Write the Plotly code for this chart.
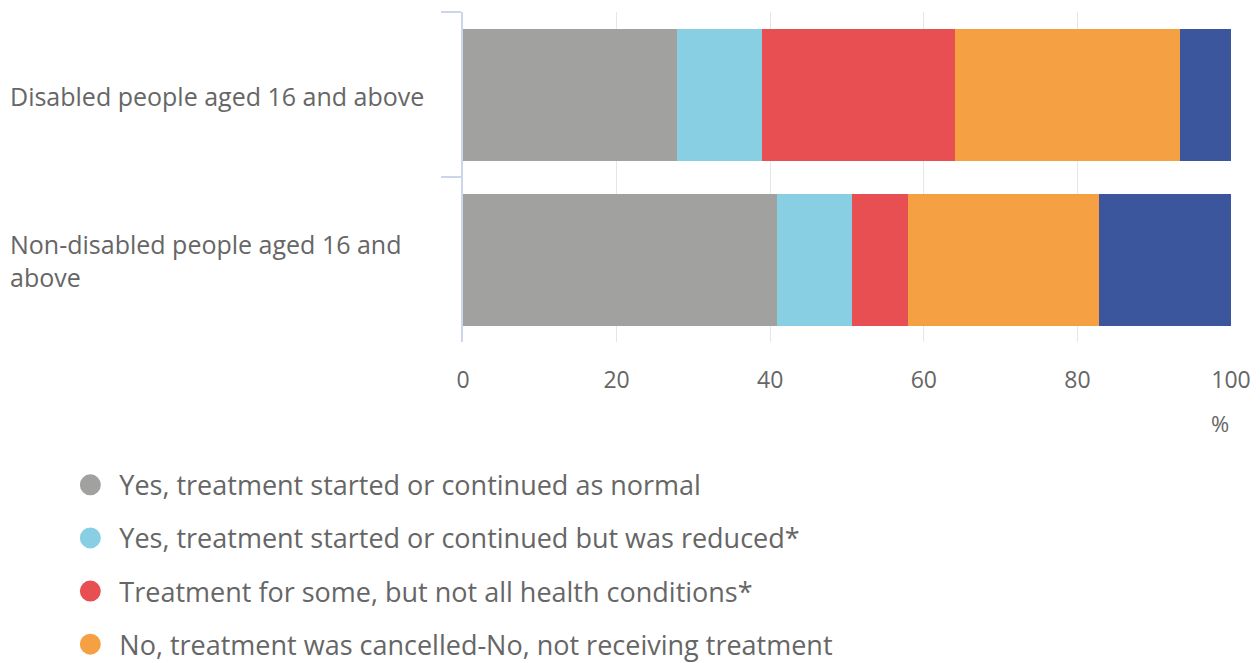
import plotly.graph_objects as go

categories = ["Disabled people aged 16 and above", "Non-disabled people aged 16 and above"]
category_labels = ["Disabled people aged 16 and above", "Non-disabled people aged 16 and<br>above"]

series_names = [
    "Yes, treatment started or continued as normal",
    "Yes, treatment started or continued but was reduced*",
    "Treatment for some, but not all health conditions*",
    "No, treatment was cancelled-No, not receiving treatment",
    "Don't know or prefer not to say",
]
normal = [27.9, 40.9]
reduced = [11.0, 9.7]
some_conditions = [25.2, 7.3]
cancelled = [29.3, 24.9]
dont_know = [6.6, 17.2]
series_values = [normal, reduced, some_conditions, cancelled, dont_know]
colors = ["#a1a1a0", "#89cfe4", "#e84f52", "#f6a044", "#3b569d"]
x_ticks = [0, 20, 40, 60, 80, 100]

FONT = "Open Sans"
TXT = "#666666"

fig = go.Figure()
for name, vals, col in zip(series_names, series_values, colors):
    fig.add_trace(go.Bar(
        y=categories, x=vals, orientation="h", name=name,
        marker=dict(color=col, line=dict(width=0)),
        showlegend=False, hoverinfo="x+name",
    ))
for i, (name, col) in enumerate(zip(series_names, colors)):
    fig.add_trace(go.Scatter(
        x=[None], y=[None], mode="markers", name=name,
        marker=dict(symbol="circle", size=16, color=col, line=dict(color=col, width=5)),
        legendgroup=f"g{i}", showlegend=True,
    ))

annotations = []
for cat, lab in zip(categories, category_labels):
    annotations.append(dict(
        x=-0.592, xref="paper", y=cat, yref="y", text=lab, showarrow=False,
        xanchor="left", yanchor="middle", align="left", yshift=-1,
        font=dict(family=FONT, size=25, color=TXT),
    ))
annotations.append(dict(
    x=100, xref="x", y=-0.245, yref="paper", text="%", showarrow=False,
    xanchor="center", yanchor="middle", xshift=-11,
    font=dict(family=FONT, size=22, color=TXT),
))

fig.update_layout(
    width=1260, height=663,
    barmode="stack", bargap=0.2,
    paper_bgcolor="white", plot_bgcolor="white",
    margin=dict(l=463, r=29, t=12, b=321, autoexpand=False),
    font=dict(family=FONT, size=22, color=TXT),
    xaxis=dict(
        range=[0, 100], tickvals=x_ticks, showgrid=True, gridcolor="#e6e6e6", gridwidth=1,
        zeroline=False, showline=False, ticks="outside", ticklen=17,
        tickcolor="rgba(0,0,0,0)", tickfont=dict(family=FONT, size=23, color=TXT),
        fixedrange=True,
    ),
    yaxis=dict(
        autorange="reversed", showline=True, linecolor="#ccd6eb", linewidth=2,
        ticks="outside", tickson="boundaries", ticklen=20, tickcolor="#ccd6eb", tickwidth=2,
        showticklabels=False, showgrid=False, zeroline=False, fixedrange=True,
    ),
    legend=dict(
        x=-0.523, xanchor="left", y=-0.36, yanchor="top", orientation="v",
        font=dict(family=FONT, size=27, color=TXT), tracegroupgap=15, itemwidth=48,
        bgcolor="rgba(0,0,0,0)", itemclick=False, itemdoubleclick=False,
    ),
    annotations=annotations,
    showlegend=True,
)

fig.write_html("out.html")
